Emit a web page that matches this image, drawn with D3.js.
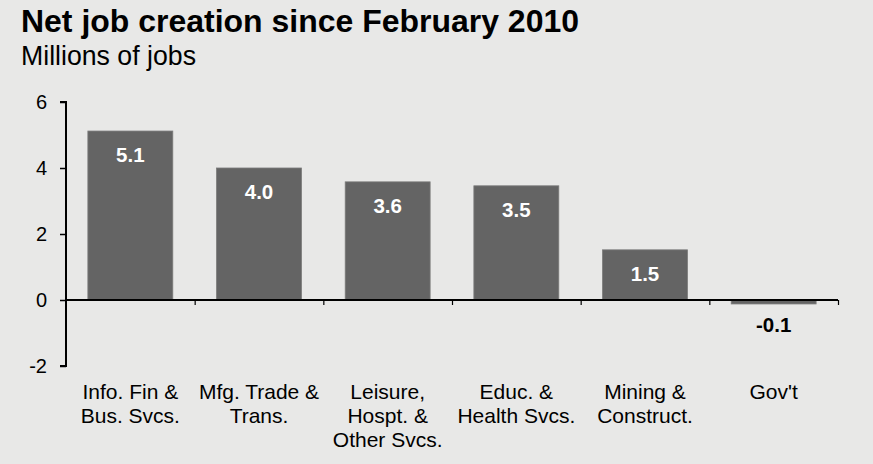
<!DOCTYPE html>
<html><head><meta charset="utf-8">
<script src="https://cdn.jsdelivr.net/npm/d3@7"></script>
<style>
html,body{margin:0;padding:0;background:#e8e8e7;}
svg{display:block;font-family:"Liberation Sans",Arial,sans-serif;}
</style></head>
<body><svg id="c" width="873" height="464"></svg>
<script>
const categories = [["Info. Fin &","Bus. Svcs."],["Mfg. Trade &","Trans."],["Leisure,","Hospt. &","Other Svcs."],["Educ. &","Health Svcs."],["Mining &","Construct."],["Gov't"]];
const values = [5.12, 4.0, 3.58, 3.46, 1.52, -0.12];
const yTicks = [-2, 0, 2, 4, 6];
const title = "Net job creation since February 2010";
const subtitle = "Millions of jobs";

const svg = d3.select("#c");
svg.append("rect").attr("width",873).attr("height",464).attr("fill","#e8e8e7");
svg.append("text").attr("x",21).attr("y",32).attr("font-size",32).attr("font-weight","bold").attr("fill","#000")
  .attr("textLength",558).attr("lengthAdjust","spacingAndGlyphs").text(title);
svg.append("text").attr("x",21).attr("y",65).attr("font-size",27).attr("fill","#000")
  .attr("textLength",175).attr("lengthAdjust","spacingAndGlyphs").text(subtitle);

const left = 66, right = 838;
const x = d3.scaleBand().domain(d3.range(categories.length)).range([left,right]).paddingInner(0.34).paddingOuter(0.17);
const y = d3.scaleLinear().domain([-2,6]).range([366,102]);

// bars
svg.append("g").selectAll("rect").data(values).join("rect")
  .attr("x",(d,i)=>x(i)).attr("width",x.bandwidth())
  .attr("y",d=>y(Math.max(0,d))).attr("height",d=>Math.abs(y(d)-y(0)))
  .attr("fill","#646464").attr("stroke","#7a7a7a").attr("stroke-width",0.8);

// value labels
svg.append("g").selectAll("text").data(values).join("text")
  .attr("x",(d,i)=>x(i)+x.bandwidth()/2)
  .attr("y",d=> d>=0 ? y(d)+31 : y(0)+32)
  .attr("text-anchor","middle").attr("font-size",20.5).attr("font-weight","bold")
  .attr("fill",d=> d>=0 ? "#fff" : "#000")
  .text(d=>d.toFixed(1));

// y axis
const yAxis = d3.axisLeft(y).tickValues(yTicks).tickSize(6).tickPadding(13).tickFormat(d=>String(d));
const gy = svg.append("g").attr("transform",`translate(${left},0)`).call(yAxis);
gy.select(".domain").attr("stroke","#000").attr("stroke-width",2).attr("d",`M-6,${y(6)}H0V${y(-2)}H-6`);
gy.selectAll(".tick line").attr("stroke","#000").attr("stroke-width",1.5);
gy.selectAll(".tick text").attr("font-size",20).attr("fill","#000").attr("font-family","Liberation Sans, Arial, sans-serif");

// x axis at zero
const xb = d3.scaleLinear().domain([0,categories.length]).range([left,right]);
const xAxis = d3.axisBottom(xb).tickValues(d3.range(1,categories.length+1)).tickSize(5).tickFormat("");
const gx = svg.append("g").attr("transform",`translate(0,${y(0)})`).call(xAxis);
gx.select(".domain").attr("stroke","#000").attr("stroke-width",2).attr("d",`M${left},0H${right}`);
gx.selectAll(".tick line").attr("stroke","#000").attr("stroke-width",1.2);

// category labels
const cl = svg.append("g").selectAll("text").data(categories).join("text")
  .attr("x",(d,i)=>x(i)+x.bandwidth()/2).attr("y",399)
  .attr("text-anchor","middle").attr("font-size",21).attr("fill","#000");
cl.selectAll("tspan").data(d=>d).join("tspan")
  .attr("x",function(){return this.parentNode.getAttribute("x");})
  .attr("dy",(d,i)=>i===0?0:24).text(d=>d);
</script></body></html>
